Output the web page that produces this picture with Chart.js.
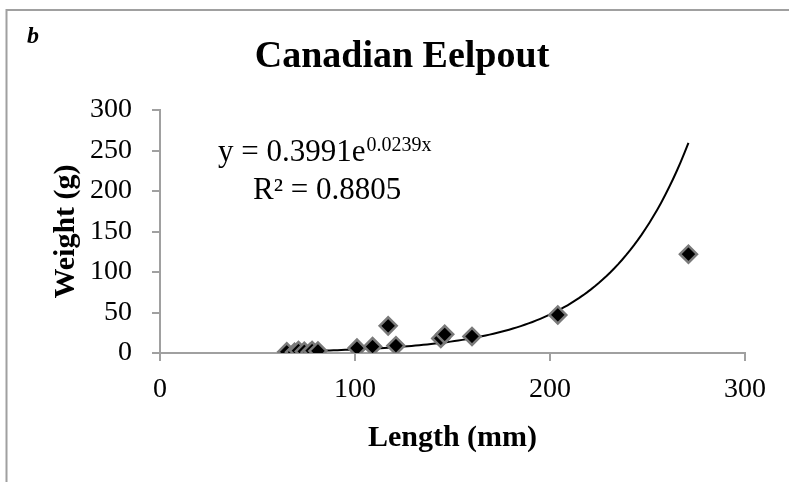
<!DOCTYPE html>
<html>
<head>
<meta charset="utf-8">
<title>Canadian Eelpout</title>
<script src="https://cdn.jsdelivr.net/npm/chart.js@4"></script>
<style>
  html, body { margin: 0; padding: 0; background: #fff; }
  #wrap { width: 789px; height: 482px; }
</style>
</head>
<body>
<div id="wrap"><canvas id="chart"></canvas></div>
<script>
// Length (mm) and weight (g) of each fish
const lengths = [65, 69, 71, 74, 77, 78, 81, 101, 109, 117, 121, 144, 146, 160, 204, 271];
const weights = [1.5, 1, 3, 2, 1, 3, 2.5, 6, 8, 33.5, 9, 18, 23, 20.5, 47, 122];

// Exponential trendline y = a * e^(b * x)
const fitA = 0.3991;
const fitB = 0.0239;
const fitR2 = 0.8805;
const fitFrom = 65;
const fitTo = 271;

const xTicks = [0, 100, 200, 300];
const yTicks = [0, 50, 100, 150, 200, 250, 300];

const serif = '"Liberation Serif", "Times New Roman", serif';
const axisGray = "#a0a0a0";

const fishPoints = lengths.map((x, i) => ({ x: x, y: weights[i] }));

const trendPoints = [];
for (let x = fitFrom; x < fitTo; x += 2) {
    trendPoints.push({ x: x, y: fitA * Math.exp(fitB * x) });
}
trendPoints.push({ x: fitTo, y: fitA * Math.exp(fitB * fitTo) });

// Frame, panel letter, title and the fit equation
const extras = {
    id: "extras",
    beforeDraw(chart) {
        const ctx = chart.ctx;
        ctx.save();
        ctx.strokeStyle = axisGray;
        ctx.lineWidth = 2;
        ctx.beginPath();
        ctx.moveTo(6.5, 500);
        ctx.lineTo(6.5, 10);
        ctx.lineTo(800, 10);
        ctx.stroke();
        ctx.restore();
    },
    afterDraw(chart) {
        const ctx = chart.ctx;
        ctx.save();
        ctx.fillStyle = "#000";
        ctx.textBaseline = "alphabetic";

        ctx.textAlign = "left";
        ctx.font = "italic bold 24px " + serif;
        ctx.fillText("b", 27, 43);

        ctx.textAlign = "center";
        ctx.font = "bold 38px " + serif;
        ctx.fillText("Canadian Eelpout", 402, 67);

        ctx.textAlign = "left";
        ctx.font = "31px " + serif;
        const base = "y = " + fitA + "e";
        ctx.fillText(base, 218, 161);
        const w = ctx.measureText(base).width;
        ctx.font = "20px " + serif;
        ctx.fillText(fitB + "x", 218 + w + 1, 151);

        ctx.font = "31px " + serif;
        ctx.fillText("R\u00b2 = " + fitR2, 253, 199);
        ctx.restore();
    }
};

new Chart(document.getElementById("chart"), {
    type: "scatter",
    data: {
        datasets: [
            {
                label: "Weight",
                data: fishPoints,
                pointStyle: "rectRot",
                pointRadius: 8.5,
                pointHoverRadius: 8.5,
                backgroundColor: "#000",
                borderColor: "#7a7a7a",
                borderWidth: 2.5
            },
            {
                label: "Expon. fit",
                data: trendPoints,
                showLine: true,
                borderColor: "#000",
                borderWidth: 2,
                pointRadius: 0,
                tension: 0,
                fill: false
            }
        ]
    },
    options: {
        responsive: true,
        maintainAspectRatio: false,
        animation: false,
        layout: { padding: { left: 44, right: 44, top: 110, bottom: 22 } },
        plugins: {
            legend: { display: false },
            title: { display: false },
            tooltip: { enabled: false }
        },
        scales: {
            x: {
                type: "linear",
                min: 0,
                max: 300,
                afterBuildTicks: s => { s.ticks = xTicks.map(v => ({ value: v })); },
                afterFit: s => { s.height = 107; },
                grid: { drawOnChartArea: false, drawTicks: true, tickLength: 8, color: axisGray, lineWidth: 2 },
                border: { color: axisGray, width: 2 },
                ticks: { color: "#000", padding: 12, font: { family: serif, size: 28 } },
                title: {
                    display: true,
                    text: "Length (mm)",
                    color: "#000",
                    font: { family: serif, size: 30, weight: "bold" },
                    padding: { top: 4, bottom: 4 }
                }
            },
            y: {
                type: "linear",
                min: 0,
                max: 300,
                afterBuildTicks: s => { s.ticks = yTicks.map(v => ({ value: v })); },
                afterFit: s => { s.width = 116; },
                grid: { drawOnChartArea: false, drawTicks: true, tickLength: 8, color: axisGray, lineWidth: 2 },
                border: { color: axisGray, width: 2 },
                ticks: { color: "#000", padding: 20, font: { family: serif, size: 28 } },
                title: {
                    display: true,
                    text: "Weight (g)",
                    color: "#000",
                    font: { family: serif, size: 30, weight: "bold" },
                    padding: { top: 4, bottom: 4 }
                }
            }
        }
    },
    plugins: [extras]
});
</script>
</body>
</html>
